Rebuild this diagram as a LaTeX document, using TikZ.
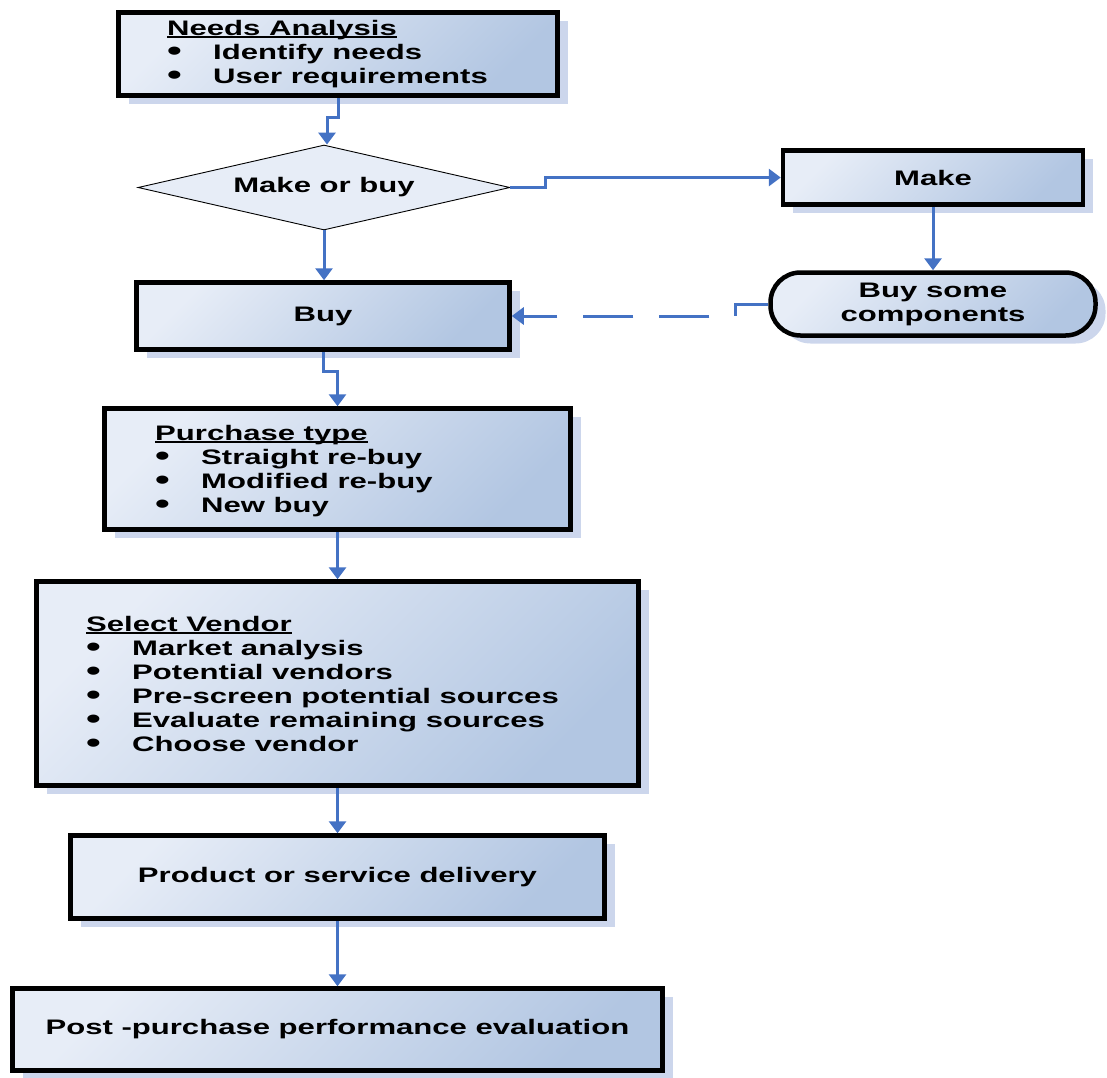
\documentclass[tikz,border=0pt]{standalone}
\usepackage{fontspec}
\usepackage{graphicx}
\setmainfont{Liberation Sans}[FakeStretch=1.48]
\usetikzlibrary{arrows.meta,shapes.geometric,shadows}

\definecolor{flowblue}{RGB}{68,114,196}
\definecolor{boxlight}{RGB}{231,237,247}
\definecolor{boxdark}{RGB}{178,198,226}
\definecolor{shadowc}{RGB}{204,214,236}
\definecolor{diamfill}{RGB}{231,237,247}

% underlined heading with a heavier rule
\newcommand\hd[1]{\setbox0\hbox{#1}\rlap{\rule[-3pt]{\wd0}{1.8pt}}\box0}
% enlarged bullet followed by a fixed indent
\newcommand\bul{\makebox[46pt][l]{\smash{\raisebox{-1.5pt}{\scalebox{1.35}{\textbullet}}}}}

\tikzset{
  stepbox/.style={rectangle, draw=black, line width=4.5pt, inner sep=0pt, outer sep=2.25pt,
    top color=boxlight, bottom color=boxdark, shading angle=45,
    drop shadow={shadow xshift=10pt, shadow yshift=-8pt, fill=shadowc, opacity=1},
    font=\fontsize{21}{24}\selectfont\bfseries, align=center},
  roundbox/.style={stepbox, rounded corners=30pt},
  decision/.style={diamond, aspect=4.376, draw=black, line width=0.9pt, fill=diamfill, inner sep=0pt,
    font=\fontsize{21}{24}\selectfont\bfseries},
  % anchored at the baseline of the last line
  listtext/.style={anchor=base west, inner sep=0pt, align=left,
    font=\fontsize{21}{24}\selectfont\bfseries},
  conn/.style={draw=flowblue, line width=3pt},
  arr/.style={-{Triangle[length=12pt,width=17pt]}}
}

\begin{document}
\begin{tikzpicture}[x=1pt,y=-1pt]
\useasboundingbox (0,0) rectangle (1107,1077);

% boxes
\node[stepbox, minimum width=439pt, minimum height=83pt] (needs) at (338,54) {};
\node[listtext] (needs-t) at (167,83) {\hd{Needs Analysis}\\ \bul Identify needs\\ \bul User requirements};

\node[decision, minimum width=372pt, minimum height=85pt] (diam) at (324,187.5) {Make or buy};

\node[stepbox, minimum width=300pt, minimum height=54pt] (make) at (933,177.5) {Make};

\node[roundbox, minimum width=325pt, minimum height=63pt] (bsc) at (933,304) {Buy some\\components};

\node[stepbox, minimum width=373pt, minimum height=67pt] (buy) at (323,316) {Buy};

\node[stepbox, minimum width=466pt, minimum height=121pt] (purch) at (337.5,469) {};
\node[listtext] (purch-t) at (155,512) {\hd{Purchase type}\\ \bul Straight re-buy\\ \bul Modified re-buy\\ \bul New buy};

\node[stepbox, minimum width=602pt, minimum height=204pt] (sel) at (337.5,683.5) {};
\node[listtext] (sel-t) at (86,751) {\hd{Select Vendor}\\ \bul Market analysis\\ \bul Potential vendors\\ \bul Pre-screen potential sources\\ \bul Evaluate remaining sources\\ \bul Choose vendor};

\node[stepbox, minimum width=534pt, minimum height=83pt] (prod) at (337.5,877) {Product or service delivery};

\node[stepbox, minimum width=650pt, minimum height=82pt] (post) at (337.5,1029.5) {Post -purchase performance evaluation};

% connectors
\draw[conn,arr] (needs.south) -- ++(0,20) -| ([xshift=3pt]diam.north);
\draw[conn,arr] (diam.east) -- ++(35,0) |- (make.west);
\draw[conn,arr] (make.south) -- (make.south |- bsc.north);
\draw[conn] (bsc.west) -- ++(-33,0) coordinate (kink) -- (kink |- buy.east);
\draw[conn,arr,dash pattern=on 50pt off 26pt,dash phase=50pt] (kink |- buy.east) -- (buy.east);
\draw[conn,arr] (diam.south) -- (diam.south |- buy.north);
\draw[conn,arr] (buy.south) -- ++(0,20) -| (purch.north);
\draw[conn,arr] (purch.south) -- (sel.north);
\draw[conn,arr] (sel.south) -- (prod.north);
\draw[conn,arr] (prod.south) -- (post.north);
\end{tikzpicture}
\end{document}
